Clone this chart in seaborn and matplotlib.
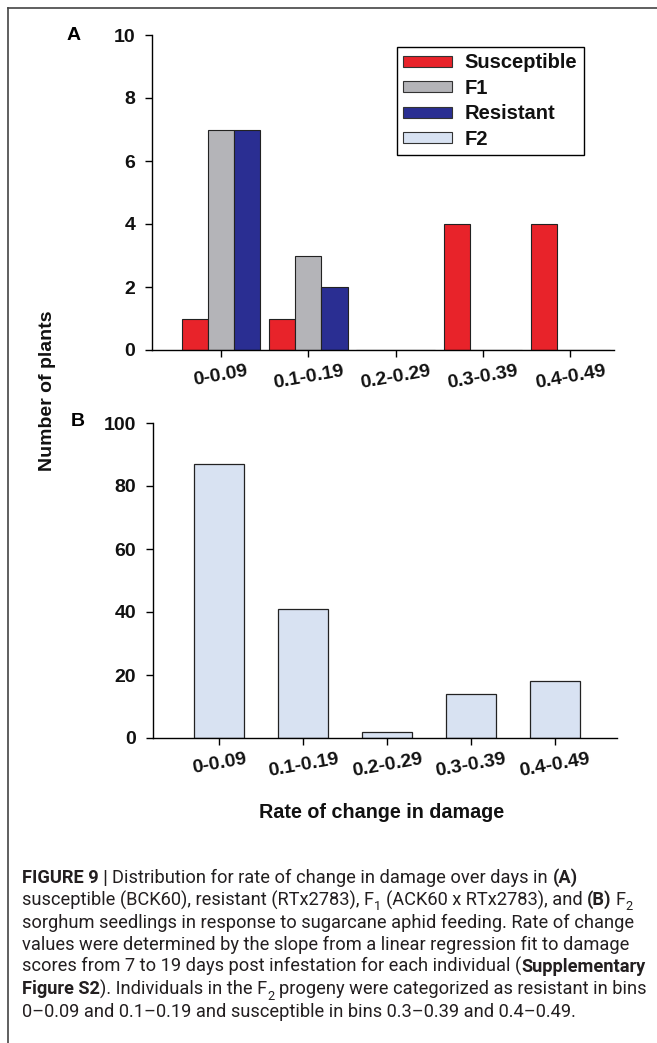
import matplotlib
matplotlib.use("Agg")
import matplotlib.pyplot as plt
from matplotlib import font_manager
from matplotlib.patches import Patch
from matplotlib.lines import Line2D
import seaborn as sns
import pandas as pd

# ---------------- data ----------------
categories = ["0-0.09", "0.1-0.19", "0.2-0.29", "0.3-0.39", "0.4-0.49"]
susceptible = [1, 1, 0, 4, 4]
f1 = [7, 3, 0, 0, 0]
resistant = [7, 2, 0, 0, 0]
f2 = [87, 41, 2, 14, 18]
group_names = ["Susceptible", "F1", "Resistant"]
legend_labels = ["Susceptible", "F1", "Resistant", "F2"]
yticks_a = [0, 2, 4, 6, 8, 10]
yticks_b = [0, 20, 40, 60, 80, 100]

colors = {"Susceptible": "#E8232A", "F1": "#B4B4B8", "Resistant": "#2A2E92", "F2": "#D8E2F2"}

plt.rcParams['font.family'] = ['Liberation Sans', 'DejaVu Sans']
names = {f.name for f in font_manager.fontManager.ttflist}
cap_family = 'Liberation Sans Narrow' if 'Liberation Sans Narrow' in names else 'Roboto'

W, H = 657, 1043
fig = plt.figure(figsize=(W / 100, H / 100), dpi=100)

def fx(px):
    return px / W

def fy(py):
    return 1 - py / H

# ---------------- panel A ----------------
axA = fig.add_axes([fx(152), fy(350), (614 - 152) / W, 315 / H])
dfA = pd.DataFrame({
    "bin": categories * 3,
    "count": susceptible + f1 + resistant,
    "group": [g for g in group_names for _ in categories],
})
sns.barplot(data=dfA, x="bin", y="count", hue="group", order=categories,
            hue_order=group_names, palette=colors, width=0.9, gap=0,
            saturation=1, errorbar=None, edgecolor="#222222", linewidth=0.8,
            legend=False, ax=axA)
axA.set_xlim(-0.79, 4.5)
axA.set_ylim(0, 10)
axA.set_yticks(yticks_a)

# ---------------- panel B ----------------
axB = fig.add_axes([fx(153), fy(738), (617 - 153) / W, 315 / H])
dfB = pd.DataFrame({"bin": categories, "count": f2})
sns.barplot(data=dfB, x="bin", y="count", order=categories, color=colors["F2"],
            width=0.6, saturation=1, errorbar=None, edgecolor="#222222",
            linewidth=0.9, ax=axB)
axB.set_xlim(-0.79, 4.74)
axB.set_ylim(0, 100)
axB.set_yticks(yticks_b)

for ax in (axA, axB):
    ax.set_xlabel("")
    ax.set_ylabel("")
    for s in ("top", "right"):
        ax.spines[s].set_visible(False)
    for s in ("left", "bottom"):
        ax.spines[s].set_color("black")
        ax.spines[s].set_linewidth(1.0)
    ax.set_facecolor("white")
    ax.tick_params(axis="both", direction="out", length=5, width=1, color="black")
    ax.tick_params(axis="y", pad=7, labelsize=14)
    ax.tick_params(axis="x", pad=4, labelsize=14)
    for lab in ax.get_yticklabels():
        lab.set_fontweight("bold")
        lab.set_color("#111111")
    ax.set_xticks(range(len(categories)))
    ax.set_xticklabels(categories, rotation=10, ha="center", fontweight="bold",
                       color="#111111", fontsize=14)

# legend
handles = [Patch(facecolor=colors[k], edgecolor="#333333", linewidth=0.8) for k in legend_labels]
leg = axA.legend(handles, legend_labels, loc="upper left",
                 bbox_to_anchor=(fx(397), fy(47)), bbox_transform=fig.transFigure,
                 borderaxespad=0, frameon=True, fancybox=False, framealpha=1,
                 edgecolor="black", handlelength=2.42, handleheight=0.46,
                 handletextpad=0.62, labelspacing=0.32, borderpad=0.32,
                 prop={"weight": "bold", "size": 14.5})
leg.get_frame().set_linewidth(1.0)
for t in leg.get_texts():
    t.set_color("#111111")

# panel letters and axis labels
fig.text(fx(74), fy(36), "A", ha="center", va="center", fontsize=14, fontweight="bold")
fig.text(fx(78), fy(422), "B", ha="center", va="center", fontsize=14, fontweight="bold")
fig.text(fx(48), fy(391), "Number of plants", rotation=90, ha="center", va="center",
         fontsize=14, fontweight="bold", color="#111111")
fig.text(fx(382), fy(813), "Rate of change in damage", ha="center", va="center",
         fontsize=14.2, fontweight="bold", color="#111111")

# frame lines
fig.add_artist(Line2D([fx(8), 1], [fy(8), fy(8)], color="#444444", lw=1.2,
                      transform=fig.transFigure))
fig.add_artist(Line2D([fx(8), fx(8)], [0, fy(8)], color="#444444", lw=1.2,
                      transform=fig.transFigure))

# ---------------- caption ----------------
fig.canvas.draw()
renderer = fig.canvas.get_renderer()

def measure(text, size, weight):
    t = fig.text(0, 0, text, fontsize=size, fontweight=weight, family=cap_family)
    w = t.get_window_extent(renderer).width
    t.remove()
    return w

R, B, S = "normal", "bold", "sub"
caption_lines = [
    [("FIGURE 9 | ", B), ("Distribution for rate of change in damage over days in ", R), ("(A)", B)],
    [("susceptible (BCK60), resistant (RTx2783), F", R), ("1", S),
     (" (ACK60 x RTx2783), and ", R), ("(B)", B), (" F", R), ("2", S)],
    [("sorghum seedlings in response to sugarcane aphid feeding. Rate of change", R)],
    [("values were determined by the slope from a linear regression fit to damage", R)],
    [("scores from 7 to 19 days post infestation for each individual (", R), ("Supplementary", B)],
    [("Figure S2", B), ("). Individuals in the F", R), ("2", S),
     (" progeny were categorized as resistant in bins", R)],
    [("0\u20130.09 and 0.1\u20130.19 and susceptible in bins 0.3\u20130.39 and 0.4\u20130.49.", R)],
]

def layout_line(segs, size, draw=False, x0=22, yb=0):
    x = x0
    sp = {w: measure("a a", size, w) - measure("aa", size, w) for w in ("normal", "bold")}
    for text, kind in segs:
        weight = "bold" if kind == B else "normal"
        fsize = size * 0.7 if kind == S else size
        lead = len(text) - len(text.lstrip(" "))
        trail = len(text) - len(text.rstrip(" "))
        core = text.strip(" ")
        x += lead * sp[weight]
        if draw:
            yoff = -0.28 * size * 100 / 72 if kind == S else 0
            fig.text(fx(x), fy(yb - yoff), core, fontsize=fsize, fontweight=weight,
                     family=cap_family, color="#231F20", ha="left", va="baseline")
        x += measure(core, fsize, weight)
        x += trail * sp[weight]
    return x

base = 10.0
w5 = layout_line(caption_lines[4], base) - 22
cap_size = base * (645 - 22) / w5

for i, segs in enumerate(caption_lines):
    layout_line(segs, cap_size, draw=True, x0=22, yb=883 + 22.3 * i)

fig.savefig("out.png", dpi=100, facecolor="white")
